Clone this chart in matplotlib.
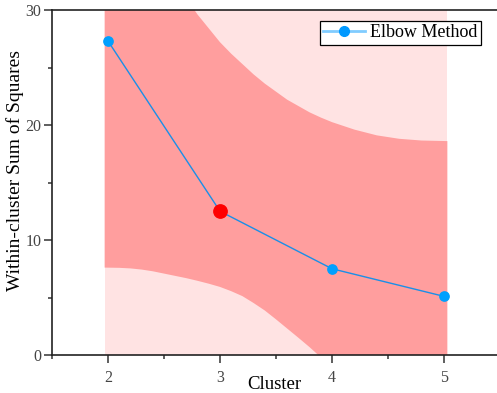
import matplotlib
matplotlib.use("Agg")
import matplotlib.pyplot as plt
from matplotlib.ticker import MultipleLocator
from matplotlib.lines import Line2D

plt.rcParams['font.family'] = ['Liberation Serif', 'DejaVu Serif']

# data
clusters = [2, 3, 4, 5]
wcss = [27.3, 12.5, 7.5, 5.1]
elbow_k = 3
elbow_val = 12.5

# shaded band
band_x = [1.97, 2.1, 2.2, 2.3, 2.4, 2.5, 2.6, 2.7, 2.8, 2.9, 3.0, 3.1, 3.2, 3.3, 3.4,
          3.5, 3.6, 3.7, 3.8, 3.9, 4.0, 4.2, 4.4, 4.6, 4.8, 5.03]
band_upper = [45, 42, 40, 38, 36.2, 34.6, 32.7, 31.0, 29.6, 28.4, 27.2, 26.2, 25.3, 24.4, 23.6,
              22.9, 22.2, 21.65, 21.1, 20.65, 20.25, 19.6, 19.1, 18.8, 18.65, 18.6]
band_lower = [7.6, 7.58, 7.53, 7.43, 7.28, 7.08, 6.88, 6.68, 6.45, 6.2, 5.92, 5.55, 5.12, 4.52, 3.87,
              3.1, 2.3, 1.5, 0.68, -0.2, -1.1, -3, -5, -7, -9, -11.5]

fig = plt.figure(figsize=(4.97, 3.93), dpi=100)
ax = fig.add_axes([52/497, 38/393, 448/497, 345/393])

ax.fill_between([band_x[0], band_x[-1]], [0, 0], [30, 30], color='#ffe3e3', lw=0, zorder=1)
ax.fill_between(band_x, band_lower, band_upper, color='#ff9e9e', lw=0, zorder=2)

ax.plot(clusters, wcss, '-o', color='#1a8fe8', mfc='#00a0ff', mec='#00a0ff',
        lw=1, ms=6.7, zorder=3)
ax.plot([elbow_k], [elbow_val], 'o', color='#ff0000', ms=9.6, zorder=4)

ax.set_xlim(1.5, 5.5)
ax.set_ylim(0, 30)
ax.set_xticks(clusters)
ax.xaxis.set_minor_locator(MultipleLocator(0.5))
ax.yaxis.set_major_locator(MultipleLocator(10))
ax.yaxis.set_minor_locator(MultipleLocator(5))
ax.tick_params(which='major', direction='out', length=6, width=1.1, labelsize=11.5,
               colors='#333333', labelcolor='#444444')
ax.tick_params(which='minor', direction='out', length=3, width=1.1, colors='#333333')
ax.tick_params(axis='x', pad=5)
ax.tick_params(axis='y', pad=1.5)
for s in ax.spines.values():
    s.set_linewidth(1.2)
    s.set_color('#222222')

ax.set_xlabel('Cluster', fontsize=13.5)
ax.xaxis.set_label_coords(0.497, -0.061)
ax.set_ylabel('Within-cluster Sum of Squares', fontsize=14)
ax.yaxis.set_label_coords(-0.063, 0.535)

handle = Line2D([], [], color='#80ccff', lw=2, marker='o', mfc='#0099ff', mec='#0099ff', ms=7)
leg = ax.legend([handle], ['Elbow Method'], loc='upper right', bbox_to_anchor=(0.966, 0.98),
                fontsize=13, frameon=True, fancybox=False, edgecolor='black',
                handlelength=2.3, borderpad=0.2, handletextpad=0.3, borderaxespad=0.2)
leg.get_frame().set_linewidth(0.9)
leg.get_frame().set_alpha(1)

fig.savefig('out.png', dpi=100)
